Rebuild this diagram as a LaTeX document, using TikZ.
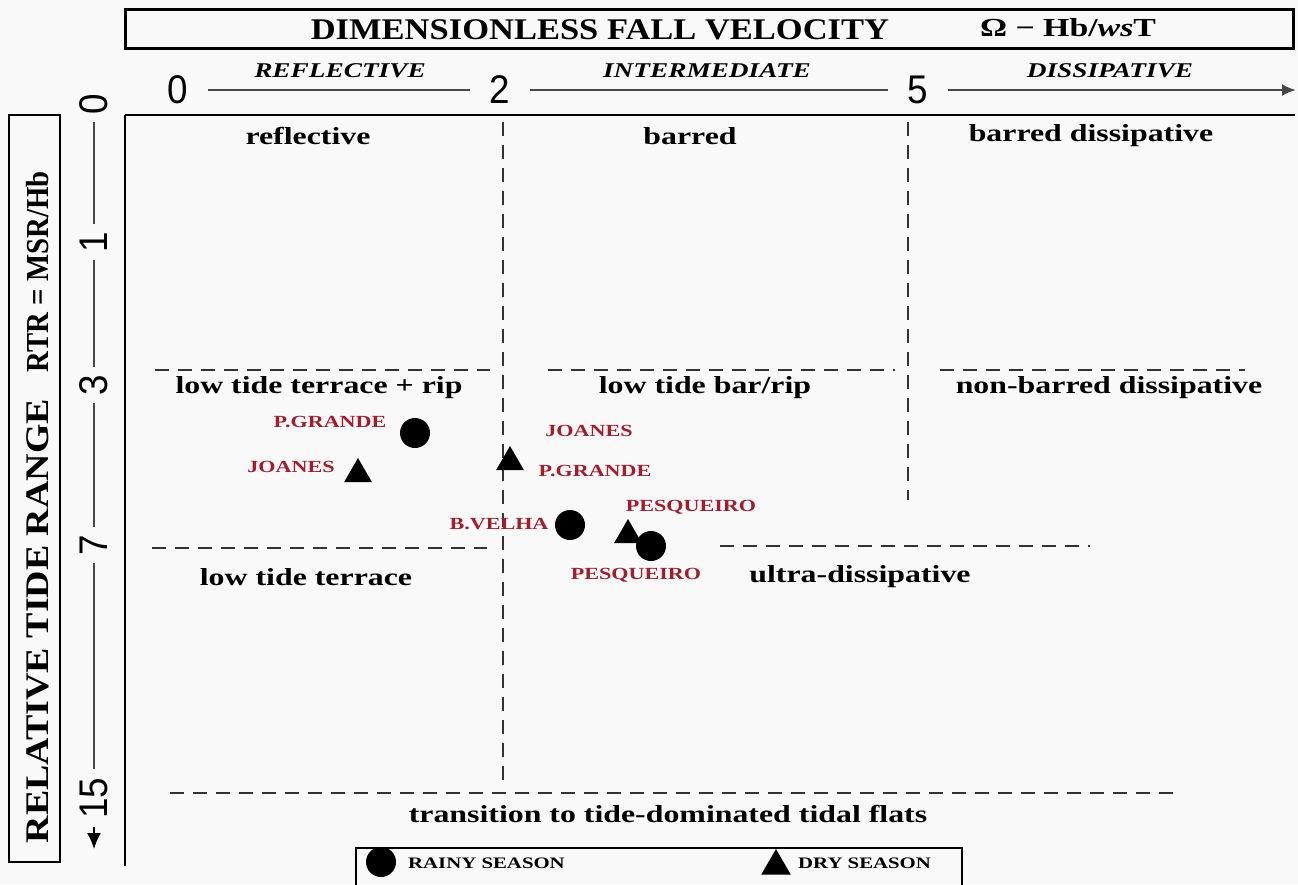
\documentclass[tikz,border=0pt]{standalone}
\usepackage{fontspec}
\setmainfont{Liberation Serif}
\newfontfamily\wserif[FakeStretch=1.3]{Liberation Serif}
\newfontfamily\tserif[FakeStretch=1.15]{Liberation Serif}
\newfontfamily\cserif[FakeStretch=0.9]{Liberation Serif}
\newfontfamily\nsans[FakeStretch=0.92]{Liberation Sans}
\usetikzlibrary{shapes.geometric,arrows.meta}
\definecolor{sitered}{RGB}{160,30,45}
\definecolor{bgcol}{RGB}{249,249,249}
\begin{document}
\begin{tikzpicture}[x=1pt,y=-1pt,
 region/.style={font=\wserif\bfseries\fontsize{24.5}{28}\selectfont, inner sep=0pt},
 site/.style={font=\wserif\bfseries\fontsize{17}{19}\selectfont, text=sitered, inner sep=0pt},
 legtext/.style={font=\wserif\bfseries\fontsize{16}{19}\selectfont, inner sep=0pt},
 rainy/.style={circle, fill=black, minimum size=30pt, inner sep=0pt},
 dry/.style={regular polygon, regular polygon sides=3, fill=black, minimum size=32pt, inner sep=0pt},
 num/.style={font=\nsans\fontsize{40}{42}\selectfont, inner sep=4pt},
 hnum/.style={num, inner xsep=20pt},
 vnum/.style={num, rotate=90, inner sep=8pt},
 zone/.style={font=\wserif\bfseries\itshape\fontsize{21}{24}\selectfont, inner sep=0pt},
 sep/.style={dash pattern=on 14pt off 9pt, line width=1.3pt, draw=black!80},
 frame/.style={line width=2.5pt},
 axisline/.style={line width=2.5pt, draw=black!72},
 vaxisline/.style={line width=1.5pt, draw=black!72},
]
\useasboundingbox (0,0) rectangle (1298,884);
\clip (0,0) rectangle (1298,884);
\fill[bgcol] (0,0) rectangle (1298,884);

% title box
\draw[line width=3pt] (125,9) rectangle (1293,48);
\node[font=\tserif\bfseries\fontsize{30}{34}\selectfont, inner sep=0pt] (title) at (600,30) {DIMENSIONLESS FALL VELOCITY};
\node[font=\wserif\bfseries\fontsize{26}{28}\selectfont, inner sep=0pt] (omega) at (1068,28) {Ω − Hb/\textit{ws}T};

% horizontal axis
\node[hnum] (h0) at (178,90) {0};
\node[hnum] (h2) at (500,90) {2};
\node[hnum] (h5) at (918,90) {5};
\coordinate (hend) at (1296,90);
\draw[axisline] (h0.east) -- (h2.west);
\draw[axisline] (h2.east) -- (h5.west);
\draw[axisline, -{Latex[length=14pt,width=12pt]}] (h5.east) -- (hend);
\node[zone] (zr) at (340,71) {REFLECTIVE};
\node[zone] (zi) at (707,71) {INTERMEDIATE};
\node[zone] (zd) at (1110,71) {DISSIPATIVE};

% left box
\draw[line width=2.5pt] (9,115) rectangle (60,862);
\node[font=\tserif\bfseries\fontsize{33}{36}\selectfont, inner sep=0pt, rotate=90] (rtr1) at (38,621) {RELATIVE TIDE RANGE};
\node[font=\cserif\bfseries\fontsize{32}{36}\selectfont, inner sep=0pt, rotate=90] (rtr2) at (38,272) {RTR = MSR/Hb};

% vertical axis
\node[vnum] (v0) at (94,104) {0};
\node[vnum] (v1) at (94,242) {1};
\node[vnum] (v3) at (94,385) {3};
\node[vnum] (v7) at (94,545) {7};
\node[vnum] (v15) at (94,798) {15};
\coordinate (vend) at (94,849);
\draw[vaxisline] (v0.west) -- (v1.east);
\draw[vaxisline] (v1.west) -- (v3.east);
\draw[vaxisline] (v3.west) -- (v7.east);
\draw[vaxisline] (v7.west) -- (v15.east);
\draw[vaxisline, draw=black, -{Latex[length=16pt,width=14pt]}] (v15.west) -- (vend);

% main frame
\draw[frame] (125,115) -- (1295,115);
\draw[frame] (125,115) -- (125,866);

% separators
\draw[sep] (503,122) -- (503,780);
\draw[sep] (908,122) -- (908,500);
\draw[sep] (155,370) -- (490,370);
\draw[sep] (548,370) -- (895,370);
\draw[sep] (940,370) -- (1245,370);
\draw[sep] (152,548) -- (487,548);
\draw[sep] (720,546) -- (1090,546);
\draw[sep] (170,793) -- (1175,793);

% regions
\node[region] (r1) at (308,136) {reflective};
\node[region] (r2) at (690,136) {barred};
\node[region] (r3) at (1091,136) {barred dissipative};
\node[region] (r4) at (319,388) {low tide terrace + rip};
\node[region] (r5) at (705,388) {low tide bar/rip};
\node[region] (r6) at (1109,388) {non-barred dissipative};
\node[region] (r7) at (306,577) {low tide terrace};
\node[region] (r8) at (860,577) {ultra-dissipative};
\node[region] (r9) at (668,814) {transition to tide-dominated tidal flats};

% data points
\node[rainy] (pgr) at (415,433) {};
\node[dry] (jod) at (358,474) {};
\node[dry] (pgd) at (510,462) {};
\node[rainy] (bvr) at (570,525) {};
\node[dry] (pqd) at (628,535) {};
\node[rainy] (pqr) at (651,546) {};

\node[site] (lpgr) at (330,422) {P.GRANDE};
\node[site] (ljod) at (291,467) {JOANES};
\node[site] (ljor) at (589,431) {JOANES};
\node[site] (lpgd) at (595,471) {P.GRANDE};
\node[site] (lpqd) at (691,507) {PESQUEIRO};
\node[site] (lbvr) at (499,524) {B.VELHA};
\node[site] (lpqr) at (636,575) {PESQUEIRO};

% legend
\draw[line width=2.5pt] (356,890) -- (356,848) -- (962,848) -- (962,890);
\node[rainy] (legr) at (381,862) {};
\node[legtext, anchor=west] (legrt) at (408,863) {RAINY SEASON};
\node[dry, minimum size=34pt] (legd) at (776,866) {};
\node[legtext, anchor=west] (legdt) at (798,863) {DRY SEASON};
\end{tikzpicture}
\end{document}
